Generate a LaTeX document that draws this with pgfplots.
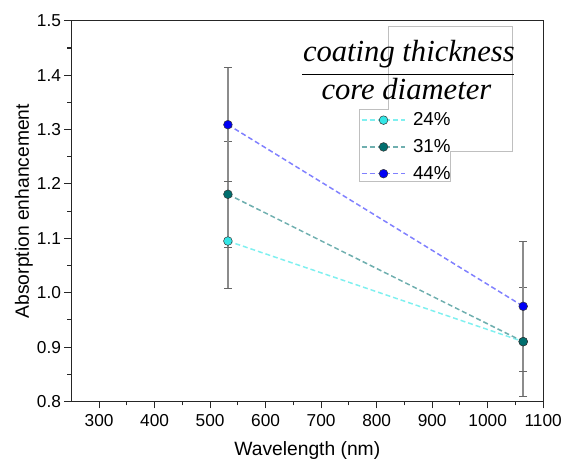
\documentclass[border=0pt]{standalone}
\usepackage{fontspec}
\setmainfont{Liberation Sans}
\newfontfamily\fracfont{Liberation Serif}
\usepackage{pgfplots}
\pgfplotsset{compat=1.18}

\definecolor{c24}{HTML}{33E6E6}
\definecolor{c24l}{HTML}{80F0F0}
\definecolor{c31}{HTML}{006E6E}
\definecolor{c31l}{HTML}{6FAFAF}
\definecolor{c44}{HTML}{0000F5}
\definecolor{c44l}{HTML}{8080FF}
\definecolor{ebar}{HTML}{8C8C8C}

\pgfplotsset{
  series/.style={
    line width=1.5bp, dash pattern=on 5bp off 3bp,
    mark=*, mark size=4.4bp,
    mark options={solid, fill=#1, draw=black!80, line width=0.5bp},
    error bars/.cd, y dir=both, y explicit,
    error bar style={ebar, line width=1.8bp, solid},
    error mark options={rotate=90, mark size=4bp, black!60, line width=1bp, solid},
  },
}

\begin{document}
\begin{tikzpicture}
\begin{axis}[
  scale only axis,
  width=476bp, height=384bp,
  xmin=250, xmax=1100,
  ymin=0.8, ymax=1.5,
  xtick={300,400,500,600,700,800,900,1000,1100},
  ytick={0.8,0.9,1.0,1.1,1.2,1.3,1.4,1.5},
  minor x tick num=1, minor y tick num=1,
  tick align=outside,
  xtick pos=bottom, ytick pos=left,
  major tick length=7bp, minor tick length=4bp,
  axis line style={black!85, line width=1.2bp},
  every tick/.style={black!85, line width=1.1bp},
  /pgf/number format/assume math mode=true,
  ticklabel style={font=\fontsize{17.5}{19}\selectfont},
  xticklabel style={/pgf/number format/1000 sep={}, yshift=-3bp},
  yticklabel style={/pgf/number format/.cd, fixed, fixed zerofill, precision=1},
  xlabel={Wavelength (nm)},
  ylabel={Absorption enhancement},
  label style={font=\fontsize{19.5}{21}\selectfont},
  xlabel style={at={(axis description cs:0.5,-0.105)}, anchor=north, inner sep=0pt},
  ylabel style={at={(axis description cs:-0.1008,0.5)}, anchor=center, inner sep=0pt},
  legend image code/.code={
    \draw[mark repeat=2, mark phase=2, #1]
      plot coordinates {(0bp,0bp) (22bp,0bp) (44bp,0bp)};
  },
  legend style={
    at={(rel axis cs:0.6113,0.7682)}, anchor=north west,
    draw=none, fill=none,
    inner xsep=1bp, inner ysep=2.5bp,
    font=\fontsize{19}{21}\selectfont,
    row sep=10bp,
    nodes={inner sep=0pt, text height=14bp, text depth=3bp},
    /tikz/every odd column/.append style={column sep=7bp},
  },
]
  \coordinate (bl) at (rel axis cs:0,0);
  \coordinate (tr) at (rel axis cs:1,1);

  % outline of the text box and legend frame
  \draw[black!25, line width=0.6bp]
    (rel axis cs:0.6723,0.7682) -- (rel axis cs:0.6113,0.7682)
    -- (rel axis cs:0.6113,0.5781) -- (rel axis cs:0.8025,0.5781)
    -- (rel axis cs:0.8025,0.6563) -- (rel axis cs:0.9349,0.6563)
    -- (rel axis cs:0.9349,0.9844) -- (rel axis cs:0.6723,0.9844) -- cycle;

  % fraction heading
  \node[anchor=base, inner sep=0pt, font=\fracfont\itshape\fontsize{31}{33}\selectfont]
    at (rel axis cs:0.7153,0.8932) {coating thickness};
  \draw[black, line width=1.2bp] (rel axis cs:0.4895,0.8594) -- (rel axis cs:0.9391,0.8594);
  \node[anchor=base, inner sep=0pt, font=\fracfont\itshape\fontsize{31}{33}\selectfont]
    at (rel axis cs:0.7101,0.7943) {core diameter};

  \addplot[c24l, series=c24] coordinates {
    (532,1.095) +- (0,0.087)
    (1064,0.910) +- (0,0.100)
  };
  \addlegendentry{24\%}
  \addplot[c31l, series=c31] coordinates {
    (532,1.181) +- (0,0.097)
    (1064,0.910) +- (0,0.100)
  };
  \addlegendentry{31\%}
  \addplot[c44l, series=c44] coordinates {
    (532,1.309) +- (0,0.105)
    (1064,0.975) +- (0,0.120)
  };
  \addlegendentry{44\%}
\end{axis}
\pgfresetboundingbox
\useasboundingbox ([shift={(-72bp,-63bp)}]bl) rectangle ([shift={(22bp,21bp)}]tr);
\end{tikzpicture}
\end{document}
